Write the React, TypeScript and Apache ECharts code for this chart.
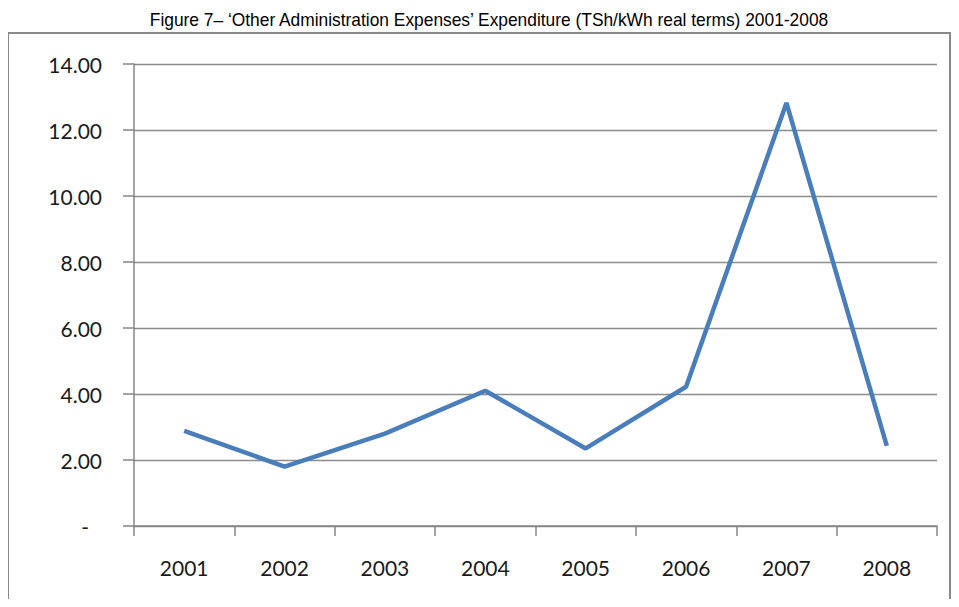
import React, { useEffect, useRef } from "react";
import * as echarts from "echarts";

const TITLE = "Figure 7\u2013 \u2018Other Administration Expenses\u2019 Expenditure (TSh/kWh real terms) 2001-2008";
const years = ["2001", "2002", "2003", "2004", "2005", "2006", "2007", "2008"];
const expenses = [2.88, 1.8, 2.8, 4.1, 2.35, 4.22, 12.82, 2.43];
const yTicks = { min: 0, max: 14, interval: 2 };

const LABEL_FONT = "Lato, 'Open Sans', sans-serif";

export default function App() {
  const ref = useRef<HTMLDivElement>(null);
  useEffect(() => {
    if (!ref.current) return;
    const chart = echarts.init(ref.current, null, { renderer: "svg" });
    chart.setOption({
      animation: false,
      backgroundColor: "#ffffff",
      graphic: [
        {
          type: "rect",
          shape: { x: 8, y: 33, width: 942, height: 600 },
          style: { fill: "none", stroke: "#8a8a8a", lineWidth: 2 },
          silent: true,
          z: -1,
        },
        {
          type: "text",
          x: 489,
          y: 20,
          scaleX: 0.965,
          silent: true,
          style: {
            text: TITLE,
            x: 0,
            y: 0,
            align: "center",
            verticalAlign: "middle",
            fontFamily: "'Liberation Sans', Arial, sans-serif",
            fontSize: 18,
            fill: "#000000",
          },
        },
      ],
      grid: { left: 134, right: 22, top: 64, bottom: 81 },
      xAxis: {
        type: "category",
        data: years,
        boundaryGap: true,
        axisLine: { lineStyle: { color: "#868686", width: 1.5 } },
        axisTick: { show: true, length: 10, lineStyle: { color: "#868686", width: 1.5 } },
        axisLabel: {
          margin: 31,
          fontFamily: LABEL_FONT,
          fontSize: 21,
          color: "#1a1a1a",
        },
      },
      yAxis: {
        type: "value",
        min: yTicks.min,
        max: yTicks.max,
        interval: yTicks.interval,
        axisLine: { show: true, lineStyle: { color: "#868686", width: 1.5 } },
        axisTick: { show: true, length: 11, lineStyle: { color: "#868686", width: 1.5 } },
        splitLine: { show: true, lineStyle: { color: "#8c8c8c", width: 1.3 } },
        axisLabel: {
          margin: 32,
          fontFamily: LABEL_FONT,
          fontSize: 21,
          color: "#1a1a1a",
          formatter: (v: number) => (v === 0 ? "{d|-}" : v.toFixed(2)),
          rich: {
            d: {
              fontFamily: LABEL_FONT,
              fontSize: 21,
              color: "#1a1a1a",
              padding: [0, 13, 0, 0],
            },
          },
        },
      },
      series: [
        {
          type: "line",
          data: expenses,
          symbol: "none",
          lineStyle: { color: "#4a7ebb", width: 4.5 },
          itemStyle: { color: "#4a7ebb" },
        },
      ],
    });
    return () => chart.dispose();
  }, []);
  return <div ref={ref} style={{ width: 959, height: 607, margin: -8 }} />;
}
